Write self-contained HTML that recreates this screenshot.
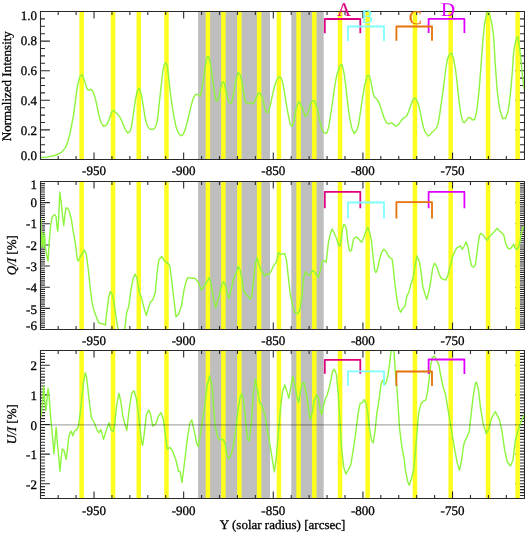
<!DOCTYPE html>
<html><head><meta charset="utf-8"><title>Stokes profiles</title>
<style>
html,body{margin:0;padding:0;background:#fff;overflow:hidden;width:525px;height:534px;}
svg{display:block;will-change:transform;}
text{font-family:"Liberation Serif",serif;fill:#000;text-rendering:geometricPrecision;stroke:#000;stroke-width:0.3px;}
.tl{font-size:13px;}
</style></head><body>
<svg width="525" height="534" viewBox="0 0 525 534">
<rect x="0" y="0" width="525" height="534" fill="#fff"/>
<clipPath id="c0"><rect x="41" y="12.1" width="483" height="146.8"/></clipPath>
<path d="M40.5 152.1 h4.5 M524.5 152.1 h-4.5 M40.5 144.7 h4.5 M524.5 144.7 h-4.5 M40.5 137.3 h4.5 M524.5 137.3 h-4.5 M40.5 129.9 h9.4 M524.5 129.9 h-9.4 M40.5 122.5 h4.5 M524.5 122.5 h-4.5 M40.5 115.1 h4.5 M524.5 115.1 h-4.5 M40.5 107.7 h4.5 M524.5 107.7 h-4.5 M40.5 100.3 h9.4 M524.5 100.3 h-9.4 M40.5 92.9 h4.5 M524.5 92.9 h-4.5 M40.5 85.5 h4.5 M524.5 85.5 h-4.5 M40.5 78.1 h4.5 M524.5 78.1 h-4.5 M40.5 70.7 h9.4 M524.5 70.7 h-9.4 M40.5 63.3 h4.5 M524.5 63.3 h-4.5 M40.5 55.9 h4.5 M524.5 55.9 h-4.5 M40.5 48.5 h4.5 M524.5 48.5 h-4.5 M40.5 41.1 h9.4 M524.5 41.1 h-9.4 M40.5 33.7 h4.5 M524.5 33.7 h-4.5 M40.5 26.3 h4.5 M524.5 26.3 h-4.5 M40.5 18.9 h4.5 M524.5 18.9 h-4.5" fill="none" stroke="#2a2a2a" stroke-width="1.1"/>
<rect x="198.05" y="11.5" width="71.95" height="148" fill="#BEBEBE"/>
<rect x="291.3" y="11.5" width="32.4" height="148" fill="#BEBEBE"/>
<rect x="79.4" y="11.5" width="4.5" height="148" fill="#FFFF1E"/>
<rect x="110.78" y="11.5" width="4.5" height="148" fill="#FFFF1E"/>
<rect x="136.52" y="11.5" width="4.5" height="148" fill="#FFFF1E"/>
<rect x="164.25" y="11.5" width="4.5" height="148" fill="#FFFF1E"/>
<rect x="205.65" y="11.5" width="4.5" height="148" fill="#FFFF1E"/>
<rect x="221.15" y="11.5" width="4.5" height="148" fill="#FFFF1E"/>
<rect x="237.09" y="11.5" width="4.5" height="148" fill="#FFFF1E"/>
<rect x="256.85" y="11.5" width="4.5" height="148" fill="#FFFF1E"/>
<rect x="276.69" y="11.5" width="4.5" height="148" fill="#FFFF1E"/>
<rect x="296.32" y="11.5" width="4.5" height="148" fill="#FFFF1E"/>
<rect x="312.02" y="11.5" width="4.5" height="148" fill="#FFFF1E"/>
<rect x="337.82" y="11.5" width="4.5" height="148" fill="#FFFF1E"/>
<rect x="365.4" y="11.5" width="4.5" height="148" fill="#FFFF1E"/>
<rect x="412.7" y="11.5" width="4.5" height="148" fill="#FFFF1E"/>
<rect x="448.41" y="11.5" width="4.5" height="148" fill="#FFFF1E"/>
<rect x="485.81" y="11.5" width="4.5" height="148" fill="#FFFF1E"/>
<rect x="515.41" y="11.5" width="4.5" height="148" fill="#FFFF1E"/>
<path d="M40.5 11.5 H524.5 V159.5 H40.5 Z M58.18 159.5 v-3.5 M58.18 11.5 v3.5 M76.1 159.5 v-3.5 M76.1 11.5 v3.5 M94.03 159.5 v-7 M94.03 11.5 v7 M111.95 159.5 v-3.5 M111.95 11.5 v3.5 M129.88 159.5 v-3.5 M129.88 11.5 v3.5 M147.81 159.5 v-3.5 M147.81 11.5 v3.5 M165.73 159.5 v-3.5 M165.73 11.5 v3.5 M183.66 159.5 v-7 M183.66 11.5 v7 M201.58 159.5 v-3.5 M201.58 11.5 v3.5 M219.51 159.5 v-3.5 M219.51 11.5 v3.5 M237.44 159.5 v-3.5 M237.44 11.5 v3.5 M255.36 159.5 v-3.5 M255.36 11.5 v3.5 M273.29 159.5 v-7 M273.29 11.5 v7 M291.21 159.5 v-3.5 M291.21 11.5 v3.5 M309.14 159.5 v-3.5 M309.14 11.5 v3.5 M327.06 159.5 v-3.5 M327.06 11.5 v3.5 M344.99 159.5 v-3.5 M344.99 11.5 v3.5 M362.92 159.5 v-7 M362.92 11.5 v7 M380.84 159.5 v-3.5 M380.84 11.5 v3.5 M398.77 159.5 v-3.5 M398.77 11.5 v3.5 M416.69 159.5 v-3.5 M416.69 11.5 v3.5 M434.62 159.5 v-3.5 M434.62 11.5 v3.5 M452.55 159.5 v-7 M452.55 11.5 v7 M470.47 159.5 v-3.5 M470.47 11.5 v3.5 M488.4 159.5 v-3.5 M488.4 11.5 v3.5 M506.32 159.5 v-3.5 M506.32 11.5 v3.5" fill="none" stroke="#2a2a2a" stroke-width="1.1"/>
<path d="M40.5 157.6 C43.47 157.27 43.3 157.87 49.4 156.6 C55.5 155.33 54.1 156 58.8 153.8 C63.5 151.6 61 152.8 63.5 150 C66 147.2 64.43 149.77 66.3 145.4 C68.17 141.03 67.23 144.1 69.1 136.9 C70.97 129.7 70.03 133.8 71.9 123.8 C73.77 113.8 73.13 117.53 74.7 106.9 C76.27 96.27 75.33 100.33 76.6 91.9 C77.87 83.47 76.93 87.23 78.5 81.6 C80.07 75.97 79.43 75.63 81.3 75 C83.17 74.37 82.23 75.33 84.1 79.7 C85.97 84.07 85.2 84.67 86.9 88.1 C88.6 91.53 87.63 89.37 89.2 90 C90.77 90.63 89.87 88.13 91.6 90 C93.33 91.87 92.53 89.97 94.4 95.6 C96.27 101.23 95.43 99.37 97.2 106.9 C98.97 114.43 97.93 112.27 99.7 118.2 C101.47 124.13 100.63 122.2 102.5 124.7 C104.37 127.2 103.43 126.63 105.3 125.7 C107.17 124.77 106.23 125.67 108.1 121.9 C109.97 118.13 109.2 118.13 110.9 114.4 C112.6 110.67 111.63 111.33 113.2 110.7 C114.77 110.07 113.83 110.97 115.6 112.5 C117.37 114.03 116.6 112.8 118.5 115.3 C120.4 117.8 119.43 116.23 121.3 120 C123.17 123.77 122.23 122.63 124.1 126.6 C125.97 130.57 125.33 130.03 126.9 131.9 C128.47 133.77 127.57 133.03 128.8 132.2 C130.03 131.37 129.37 133.47 130.6 129.4 C131.83 125.33 131.23 127.5 132.5 120 C133.77 112.5 133.13 115.03 134.4 106.9 C135.67 98.77 134.93 101.53 136.3 95.6 C137.67 89.67 136.93 89.7 138.5 89.1 C140.07 88.5 139.37 87.87 141 93.8 C142.63 99.73 141.83 98.17 143.4 106.9 C144.97 115.63 144 113.13 145.7 120 C147.4 126.87 146.63 124.43 148.5 127.5 C150.37 130.57 149.63 128.77 151.3 129.2 C152.97 129.63 152.07 129.77 153.5 128.8 C154.93 127.83 154.27 129.63 155.6 126.3 C156.93 122.97 156.23 126.93 157.5 118.8 C158.77 110.67 158.13 113.17 159.4 101.9 C160.67 90.63 160.07 95.63 161.3 85 C162.53 74.37 161.9 77 163.1 70 C164.3 63 163.77 65.9 164.9 64 C166.03 62.1 165.53 62.3 166.5 64.3 C167.47 66.3 166.73 62.47 167.8 70 C168.87 77.53 168.43 76.27 169.7 86.9 C170.97 97.53 170.03 91.27 171.6 101.9 C173.17 112.53 172.53 109.4 174.4 118.8 C176.27 128.2 175.33 124.8 177.2 130.1 C179.07 135.4 178.57 132.97 180 134.7 C181.43 136.43 180.23 135.9 181.5 135.3 C182.77 134.7 182.1 136.53 183.8 132.9 C185.5 129.27 184.73 130.97 186.6 124.4 C188.47 117.83 187.53 120.7 189.4 113.2 C191.27 105.7 190.43 107.67 192.2 101.9 C193.97 96.13 193.13 98.4 194.7 95.9 C196.27 93.4 195.4 94.6 196.9 94.4 C198.4 94.2 197.87 95.6 199.2 95.3 C200.53 95 199.6 98.17 200.9 93.5 C202.2 88.83 201.73 89.77 203.1 81.3 C204.47 72.83 203.83 75.43 205 68.1 C206.17 60.77 205.63 63 206.6 59.3 C207.57 55.6 206.87 56.57 207.9 57 C208.93 57.43 208.47 55.63 209.7 60.6 C210.93 65.57 210.37 63.77 211.6 71.9 C212.83 80.03 212.17 76.57 213.4 85 C214.63 93.43 214.03 92.07 215.3 97.2 C216.57 102.33 215.93 101.03 217.2 100.4 C218.47 99.77 217.83 99.8 219.1 95.3 C220.37 90.8 219.57 91.27 221 86.9 C222.43 82.53 221.87 81.57 223.4 82.2 C224.93 82.83 224.1 83.17 225.6 88.8 C227.1 94.43 226.5 94.4 227.9 99.1 C229.3 103.8 228.37 102.6 229.8 102.9 C231.23 103.2 230.6 105.03 232.2 100 C233.8 94.97 233.03 95.6 234.6 87.8 C236.17 80 235.4 81.4 236.9 76.6 C238.4 71.8 237.53 72.17 239.1 73.4 C240.67 74.63 240.13 74.23 241.6 80.3 C243.07 86.37 242.27 84.7 243.5 91.6 C244.73 98.5 243.87 97.23 245.3 101 C246.73 104.77 245.9 102.27 247.8 102.9 C249.7 103.53 249.13 102.73 251 102.9 C252.87 103.07 251.83 104.67 253.4 103.4 C254.97 102.13 254.33 101.8 255.7 99.1 C257.07 96.4 256.27 97.37 257.5 95.3 C258.73 93.23 258 92.57 259.4 92.9 C260.8 93.23 260.33 93.3 261.7 96.3 C263.07 99.3 262.43 97.83 263.5 101.9 C264.57 105.97 263.7 105.07 264.9 108.5 C266.1 111.93 265.6 112.2 267.1 112.2 C268.6 112.2 267.7 113.8 269.4 108.5 C271.1 103.2 270.33 104.13 272.2 96.3 C274.07 88.47 273.13 90.93 275 85 C276.87 79.07 276.23 81 277.8 78.5 C279.37 76 278.43 77.2 279.7 77.5 C280.97 77.8 280.33 76.27 281.6 79.4 C282.87 82.53 281.93 78.77 283.5 86.9 C285.07 95.03 284.43 93.17 286.3 103.8 C288.17 114.43 287.53 111.6 289.1 118.8 C290.67 126 289.57 124.13 291 125.4 C292.43 126.67 291.87 127.3 293.4 122.6 C294.93 117.9 294.23 117.27 295.6 111.3 C296.97 105.33 296.23 107.7 297.5 104.7 C298.77 101.7 298 101.67 299.4 102.3 C300.8 102.93 300.13 102.97 301.7 106.6 C303.27 110.23 302.67 110.07 304.1 113.2 C305.53 116.33 304.57 116.63 306 116 C307.43 115.37 306.83 115.37 308.4 111.3 C309.97 107.23 309 107.43 310.7 103.8 C312.4 100.17 311.77 100.1 313.5 100.4 C315.23 100.7 314.47 101.07 315.9 104.7 C317.33 108.33 316.53 105.97 317.8 111.3 C319.07 116.63 318.13 114.43 319.7 120.7 C321.27 126.97 320.63 126.03 322.5 130.1 C324.37 134.17 323.53 132.9 325.3 132.9 C327.07 132.9 326.23 134.8 327.8 130.1 C329.37 125.4 328.33 128.83 330 118.8 C331.67 108.77 330.93 112.5 332.8 100 C334.67 87.5 333.7 91.3 335.6 81.3 C337.5 71.3 336.73 75.33 338.5 70 C340.27 64.67 339.37 65.6 340.9 65.3 C342.43 65 341.6 63.13 343.1 69.1 C344.6 75.07 343.83 71.63 345.4 83.2 C346.97 94.77 346.07 90.67 347.8 103.8 C349.53 116.93 348.7 113.23 350.6 122.6 C352.5 131.97 351.93 128.8 353.5 131.9 C355.07 135 353.87 133.47 355.3 131.9 C356.73 130.33 356.23 132.83 357.8 127.2 C359.37 121.57 358.33 125.3 360 115 C361.67 104.7 360.9 107.53 362.8 96.3 C364.7 85.07 363.93 88.2 365.7 81.3 C367.47 74.4 366.57 76.23 368.1 75.6 C369.63 74.97 369.03 75.63 370.3 79.4 C371.57 83.17 370.73 81.6 371.9 86.9 C373.07 92.2 372.23 91.23 373.8 95.3 C375.37 99.37 374.73 96.27 376.6 99.1 C378.47 101.93 377.53 99.43 379.4 103.8 C381.27 108.17 380.33 106.9 382.2 112.2 C384.07 117.5 383.13 115.93 385 119.7 C386.87 123.47 385.8 122.43 387.8 123.5 C389.8 124.57 389.1 122.6 391 122.9 C392.9 123.2 391.73 123.4 393.5 124.4 C395.27 125.4 394.43 126.2 396.3 125.9 C398.17 125.6 397.23 125.57 399.1 123.5 C400.97 121.43 399.83 121.9 401.9 119.7 C403.97 117.5 403.43 118.77 405.3 116.9 C407.17 115.03 405.83 117.53 407.5 114.1 C409.17 110.67 408.53 111.17 410.3 106.6 C412.07 102.03 411.33 103.2 412.8 100.4 C414.27 97.6 413.33 98 414.7 98.2 C416.07 98.4 415.4 97.9 416.9 101 C418.4 104.1 417.63 101.57 419.2 107.5 C420.77 113.43 419.87 111.27 421.6 118.8 C423.33 126.33 422.53 124.83 424.4 130.1 C426.27 135.37 425.63 132.8 427.2 134.6 C428.77 136.4 427.63 136.13 429.1 135.5 C430.57 134.87 429.73 134.57 431.6 132.7 C433.47 130.83 432.83 132.1 434.7 129.9 C436.57 127.7 435.77 129.83 437.2 126.1 C438.63 122.37 437.77 125.57 439 118.7 C440.23 111.83 439.63 114.27 440.9 105.5 C442.17 96.73 441.53 101.73 442.8 92.4 C444.07 83.07 443.47 86.87 444.7 77.5 C445.93 68.13 445.27 71.17 446.5 64.3 C447.73 57.43 446.97 60.5 448.4 56.9 C449.83 53.3 449.37 53.83 450.8 53.5 C452.23 53.17 451.43 52.3 452.7 55.9 C453.97 59.5 453.33 57.1 454.6 64.3 C455.87 71.5 455.27 67.5 456.5 77.5 C457.73 87.5 457.07 83.7 458.3 94.3 C459.53 104.9 458.93 101.17 460.2 109.3 C461.47 117.43 460.83 114.33 462.1 118.7 C463.37 123.07 462.63 121.8 464 122.4 C465.37 123 464.73 122.07 466.2 120.5 C467.67 118.93 466.83 118.43 468.4 117.7 C469.97 116.97 469.33 117.63 470.9 118.3 C472.47 118.97 471.47 120.8 473.1 119.7 C474.73 118.6 474.03 122.7 475.8 115 C477.57 107.3 476.83 110.93 478.4 96.6 C479.97 82.27 479.27 87.3 480.5 72 C481.73 56.7 481.07 63.5 482.1 50.7 C483.13 37.9 482.47 44.07 483.6 33.6 C484.73 23.13 483.93 26.4 485.5 19.3 C487.07 12.2 486.57 12.3 488.3 12.3 C490.03 12.3 489.27 13.8 490.7 19.3 C492.13 24.8 491.5 20.9 492.6 28.8 C493.7 36.7 492.97 29.13 494 43 C495.03 56.87 494.27 51.67 495.7 70.4 C497.13 89.13 496.37 84.33 498.3 99.2 C500.23 114.07 499.57 108.7 501.5 115 C503.43 121.3 502.37 118.1 504.1 118.1 C505.83 118.1 504.93 120.4 506.7 115 C508.47 109.6 507.63 115.03 509.4 101.9 C511.17 88.77 510.6 91.7 512 75.6 C513.4 59.5 512.6 63.8 513.6 53.6 C514.6 43.4 513.73 50.57 515 45 C516.27 39.43 516.13 37.53 517.4 36.9 C518.67 36.27 517.87 37.87 518.8 43.1 C519.73 48.33 518.97 41.47 520.2 52.6 C521.43 63.73 521.07 63.87 522.5 76.5 C523.93 89.13 523.83 85.83 524.5 90.5" fill="none" stroke="#8CF53C" stroke-width="1.4" stroke-linejoin="round" clip-path="url(#c0)"/>
<path d="M324.8 33.3 L324.8 19 L360.3 19 L360.3 33.3" fill="none" stroke="#DD0080" stroke-width="1.8" stroke-linejoin="round"/>
<path d="M428.6 33.1 L428.6 18.9 L464.4 18.9 L464.4 33.1" fill="none" stroke="#DD00FF" stroke-width="1.8" stroke-linejoin="round"/>
<path d="M347.9 41 L347.9 26.5 L384 26.5 L384 41" fill="none" stroke="#80FFFF" stroke-width="1.8" stroke-linejoin="round"/>
<path d="M396.4 40.7 L396.4 26.5 L432 26.5 L432 40.7" fill="none" stroke="#E5720A" stroke-width="1.8" stroke-linejoin="round"/>
<text class="tl" x="36.9" y="15.3" text-anchor="end" dominant-baseline="central">1.0</text>
<text class="tl" x="36.9" y="40.9" text-anchor="end" dominant-baseline="central">0.8</text>
<text class="tl" x="36.9" y="70.8" text-anchor="end" dominant-baseline="central">0.6</text>
<text class="tl" x="36.9" y="100" text-anchor="end" dominant-baseline="central">0.4</text>
<text class="tl" x="36.9" y="130" text-anchor="end" dominant-baseline="central">0.2</text>
<text class="tl" x="36.9" y="155.8" text-anchor="end" dominant-baseline="central">0.0</text>
<text class="tl" x="93.98" y="175.4" text-anchor="middle">-950</text>
<text class="tl" x="183.61" y="175.4" text-anchor="middle">-900</text>
<text class="tl" x="273.24" y="175.4" text-anchor="middle">-850</text>
<text class="tl" x="362.87" y="175.4" text-anchor="middle">-800</text>
<text class="tl" x="452.5" y="175.4" text-anchor="middle">-750</text>
<clipPath id="c1"><rect x="41" y="182.1" width="483" height="146.8"/></clipPath>
<path d="M40.5 327.39 h4.5 M524.5 327.39 h-4.5 M40.5 325.27 h4.5 M524.5 325.27 h-4.5 M40.5 323.16 h4.5 M524.5 323.16 h-4.5 M40.5 321.04 h4.5 M524.5 321.04 h-4.5 M40.5 318.93 h4.5 M524.5 318.93 h-4.5 M40.5 316.81 h4.5 M524.5 316.81 h-4.5 M40.5 314.7 h4.5 M524.5 314.7 h-4.5 M40.5 312.59 h4.5 M524.5 312.59 h-4.5 M40.5 310.47 h4.5 M524.5 310.47 h-4.5 M40.5 308.36 h9.4 M524.5 308.36 h-9.4 M40.5 306.24 h4.5 M524.5 306.24 h-4.5 M40.5 304.13 h4.5 M524.5 304.13 h-4.5 M40.5 302.01 h4.5 M524.5 302.01 h-4.5 M40.5 299.9 h4.5 M524.5 299.9 h-4.5 M40.5 297.79 h4.5 M524.5 297.79 h-4.5 M40.5 295.67 h4.5 M524.5 295.67 h-4.5 M40.5 293.56 h4.5 M524.5 293.56 h-4.5 M40.5 291.44 h4.5 M524.5 291.44 h-4.5 M40.5 289.33 h4.5 M524.5 289.33 h-4.5 M40.5 287.21 h9.4 M524.5 287.21 h-9.4 M40.5 285.1 h4.5 M524.5 285.1 h-4.5 M40.5 282.99 h4.5 M524.5 282.99 h-4.5 M40.5 280.87 h4.5 M524.5 280.87 h-4.5 M40.5 278.76 h4.5 M524.5 278.76 h-4.5 M40.5 276.64 h4.5 M524.5 276.64 h-4.5 M40.5 274.53 h4.5 M524.5 274.53 h-4.5 M40.5 272.41 h4.5 M524.5 272.41 h-4.5 M40.5 270.3 h4.5 M524.5 270.3 h-4.5 M40.5 268.19 h4.5 M524.5 268.19 h-4.5 M40.5 266.07 h9.4 M524.5 266.07 h-9.4 M40.5 263.96 h4.5 M524.5 263.96 h-4.5 M40.5 261.84 h4.5 M524.5 261.84 h-4.5 M40.5 259.73 h4.5 M524.5 259.73 h-4.5 M40.5 257.61 h4.5 M524.5 257.61 h-4.5 M40.5 255.5 h4.5 M524.5 255.5 h-4.5 M40.5 253.39 h4.5 M524.5 253.39 h-4.5 M40.5 251.27 h4.5 M524.5 251.27 h-4.5 M40.5 249.16 h4.5 M524.5 249.16 h-4.5 M40.5 247.04 h4.5 M524.5 247.04 h-4.5 M40.5 244.93 h9.4 M524.5 244.93 h-9.4 M40.5 242.81 h4.5 M524.5 242.81 h-4.5 M40.5 240.7 h4.5 M524.5 240.7 h-4.5 M40.5 238.59 h4.5 M524.5 238.59 h-4.5 M40.5 236.47 h4.5 M524.5 236.47 h-4.5 M40.5 234.36 h4.5 M524.5 234.36 h-4.5 M40.5 232.24 h4.5 M524.5 232.24 h-4.5 M40.5 230.13 h4.5 M524.5 230.13 h-4.5 M40.5 228.01 h4.5 M524.5 228.01 h-4.5 M40.5 225.9 h4.5 M524.5 225.9 h-4.5 M40.5 223.79 h9.4 M524.5 223.79 h-9.4 M40.5 221.67 h4.5 M524.5 221.67 h-4.5 M40.5 219.56 h4.5 M524.5 219.56 h-4.5 M40.5 217.44 h4.5 M524.5 217.44 h-4.5 M40.5 215.33 h4.5 M524.5 215.33 h-4.5 M40.5 213.21 h4.5 M524.5 213.21 h-4.5 M40.5 211.1 h4.5 M524.5 211.1 h-4.5 M40.5 208.99 h4.5 M524.5 208.99 h-4.5 M40.5 206.87 h4.5 M524.5 206.87 h-4.5 M40.5 204.76 h4.5 M524.5 204.76 h-4.5 M40.5 202.64 h9.4 M524.5 202.64 h-9.4 M40.5 200.53 h4.5 M524.5 200.53 h-4.5 M40.5 198.41 h4.5 M524.5 198.41 h-4.5 M40.5 196.3 h4.5 M524.5 196.3 h-4.5 M40.5 194.19 h4.5 M524.5 194.19 h-4.5 M40.5 192.07 h4.5 M524.5 192.07 h-4.5 M40.5 189.96 h4.5 M524.5 189.96 h-4.5 M40.5 187.84 h4.5 M524.5 187.84 h-4.5 M40.5 185.73 h4.5 M524.5 185.73 h-4.5 M40.5 183.61 h4.5 M524.5 183.61 h-4.5" fill="none" stroke="#2a2a2a" stroke-width="1.1"/>
<rect x="198.05" y="181.5" width="71.95" height="148" fill="#BEBEBE"/>
<rect x="291.3" y="181.5" width="32.4" height="148" fill="#BEBEBE"/>
<rect x="79.4" y="181.5" width="4.5" height="148" fill="#FFFF1E"/>
<rect x="110.78" y="181.5" width="4.5" height="148" fill="#FFFF1E"/>
<rect x="136.52" y="181.5" width="4.5" height="148" fill="#FFFF1E"/>
<rect x="164.25" y="181.5" width="4.5" height="148" fill="#FFFF1E"/>
<rect x="205.65" y="181.5" width="4.5" height="148" fill="#FFFF1E"/>
<rect x="221.15" y="181.5" width="4.5" height="148" fill="#FFFF1E"/>
<rect x="237.09" y="181.5" width="4.5" height="148" fill="#FFFF1E"/>
<rect x="256.85" y="181.5" width="4.5" height="148" fill="#FFFF1E"/>
<rect x="276.69" y="181.5" width="4.5" height="148" fill="#FFFF1E"/>
<rect x="296.32" y="181.5" width="4.5" height="148" fill="#FFFF1E"/>
<rect x="312.02" y="181.5" width="4.5" height="148" fill="#FFFF1E"/>
<rect x="337.82" y="181.5" width="4.5" height="148" fill="#FFFF1E"/>
<rect x="365.4" y="181.5" width="4.5" height="148" fill="#FFFF1E"/>
<rect x="412.7" y="181.5" width="4.5" height="148" fill="#FFFF1E"/>
<rect x="448.41" y="181.5" width="4.5" height="148" fill="#FFFF1E"/>
<rect x="485.81" y="181.5" width="4.5" height="148" fill="#FFFF1E"/>
<rect x="515.41" y="181.5" width="4.5" height="148" fill="#FFFF1E"/>
<path d="M40.5 181.5 H524.5 V329.5 H40.5 Z M58.18 329.5 v-3.5 M58.18 181.5 v3.5 M76.1 329.5 v-3.5 M76.1 181.5 v3.5 M94.03 329.5 v-7 M94.03 181.5 v7 M111.95 329.5 v-3.5 M111.95 181.5 v3.5 M129.88 329.5 v-3.5 M129.88 181.5 v3.5 M147.81 329.5 v-3.5 M147.81 181.5 v3.5 M165.73 329.5 v-3.5 M165.73 181.5 v3.5 M183.66 329.5 v-7 M183.66 181.5 v7 M201.58 329.5 v-3.5 M201.58 181.5 v3.5 M219.51 329.5 v-3.5 M219.51 181.5 v3.5 M237.44 329.5 v-3.5 M237.44 181.5 v3.5 M255.36 329.5 v-3.5 M255.36 181.5 v3.5 M273.29 329.5 v-7 M273.29 181.5 v7 M291.21 329.5 v-3.5 M291.21 181.5 v3.5 M309.14 329.5 v-3.5 M309.14 181.5 v3.5 M327.06 329.5 v-3.5 M327.06 181.5 v3.5 M344.99 329.5 v-3.5 M344.99 181.5 v3.5 M362.92 329.5 v-7 M362.92 181.5 v7 M380.84 329.5 v-3.5 M380.84 181.5 v3.5 M398.77 329.5 v-3.5 M398.77 181.5 v3.5 M416.69 329.5 v-3.5 M416.69 181.5 v3.5 M434.62 329.5 v-3.5 M434.62 181.5 v3.5 M452.55 329.5 v-7 M452.55 181.5 v7 M470.47 329.5 v-3.5 M470.47 181.5 v3.5 M488.4 329.5 v-3.5 M488.4 181.5 v3.5 M506.32 329.5 v-3.5 M506.32 181.5 v3.5" fill="none" stroke="#2a2a2a" stroke-width="1.1"/>
<path d="M41 218.5 L41.3 247 L42.3 233 L43.4 247.5 L44.4 233 L45.4 247 L46.6 255 L48.1 261 L49.2 242 L50.4 227.5 L52 217.4 L54.3 214.6 L56 216.2 L57.1 227.5 L57.8 231.2 L58.7 218.5 L59.8 192.2 L61 200.5 L62.5 215.5 L63.7 225.6 L64.7 217 L65.8 208 L67.7 208.3 L69.7 212.5 L71.5 220 L73 230.4 L74.5 238 L76 248 L77.3 260 L78.5 261 L80 257 L82 254.5 L84.3 250 L86.3 254 L88.4 270.4 L90.1 287.2 L91.8 300.7 L93.5 309.1 L96 315.9 L98.5 322.6 L101.1 323.5 L103.6 324 L105.3 325.2 L107 310.8 L108.7 297.3 L110.4 291.4 L112 294 L113.7 300.7 L115.4 312.5 L117.1 324.3 L118.4 330 L124.6 330 L125.7 321 L126.7 312.5 L128.7 306.5 L130.9 290 L133.4 277.9 L135.1 274.2 L137 277.9 L139 291.2 L141.4 297.3 L143.8 307.1 L146.3 315.6 L148.7 307.1 L150.4 302.2 L152.8 299.8 L155.3 292.5 L157 273 L158.9 259.6 L161.8 256.4 L164.3 260.8 L167.4 262.8 L169.9 266 L170.4 270.6 L172.3 285.2 L174.2 302.2 L176 316.8 L178.4 314.4 L181.5 305.8 L184 290 L186.4 280.3 L188.1 277.4 L191.3 278.3 L194.7 278.3 L197.8 281.5 L201.5 290 L203.9 286.4 L206.4 282.7 L209.5 277.4 L211.2 285.2 L213.7 299.8 L215.6 307.7 L217.5 301.2 L219.4 294.6 L221.6 285.2 L223.5 281.5 L225.4 285.2 L227.2 293.7 L229.1 298.4 L231 289.9 L233.4 279.6 L236.2 273.1 L238.1 266.5 L240 269.3 L241.8 278.7 L243.7 290.9 L246 294.6 L247.5 295.5 L249.7 298.9 L251.6 297.4 L253.4 282.4 L255.3 263.7 L257 257.7 L258.7 263.7 L261.6 271.2 L264.4 275.9 L266.6 274 L269 274.6 L271.5 270.3 L273.7 265.6 L276.5 261.8 L278.4 252.5 L280.3 254.3 L282.2 254 L284.6 253.4 L286.5 260 L288.3 276.8 L290.2 293.7 L292.5 304.9 L294.7 312.4 L297.1 313.9 L299.6 310.5 L301.8 297.4 L303.6 277.9 L305.4 271.8 L307.3 274.2 L309.7 275.4 L312.2 270.6 L314.6 271.8 L316.5 275.4 L318.2 277.4 L320.7 269.3 L322.2 261.7 L323.9 260.6 L326.2 262.2 L327.3 252.7 L328.4 242.6 L330.1 234.7 L332.1 228.9 L334 232.5 L336.9 239.2 L338.5 244.8 L340 246.2 L341.3 238.1 L342.5 229.1 L343.8 224.4 L345.3 225.7 L346.4 229.1 L347.5 239.2 L348.7 247.1 L349.8 251 L351.5 250.4 L352.6 243.7 L353.7 238.7 L356 237 L357.6 237.5 L359.3 239.8 L361.6 242.4 L363.3 238.7 L365.5 232.5 L367.7 227.2 L369.5 231.7 L371.3 240 L373.2 258 L374.7 269.9 L375.8 272.6 L377.3 269.9 L379.2 260.9 L381.5 252.7 L383.7 249.3 L386 251.2 L388.2 255.7 L390.2 258.2 L392 258.7 L393.3 268 L394.8 283 L396.7 298 L398.7 308.4 L400.8 312.2 L402.7 308.4 L405 306.2 L406.8 296.4 L409.2 291.2 L411 283.7 L413.2 277.7 L415.2 265 L417 256 L419.2 261.2 L420.7 269.5 L422.7 286 L424.8 293.4 L426.7 299.4 L428.7 292 L430.7 281.5 L432.7 268 L434.6 263.2 L436.7 266.5 L438.7 272.9 L441 278.2 L443.2 279.2 L445.8 280.1 L447.7 275.9 L450 266.9 L452.2 257.9 L454.5 251.9 L456.7 248.2 L459 246.7 L460.5 246 L462.3 249.3 L464.2 246 L466.2 241.8 L468 247.5 L469.8 257.9 L471.7 266.2 L473.7 267.2 L475.4 264.7 L476.5 256.9 L478 244.9 L479.5 235.2 L481 233.3 L483.2 235.2 L485.5 238.7 L487.3 240.1 L489.2 236.7 L491.5 234.5 L494.5 231.5 L497.2 228.2 L499.3 230.7 L502 233 L503.8 235.2 L505.7 243.4 L507.7 247.9 L509.8 249.1 L511.7 247.2 L513.7 244.2 L514.7 247.6 L516.6 249.4 L518.4 247.6 L519.9 242 L521.4 233 L523.2 227 L524.5 226.2" fill="none" stroke="#8CF53C" stroke-width="1.4" stroke-linejoin="round" clip-path="url(#c1)"/>
<path d="M324.8 208.2 L324.8 191.9 L360.3 191.9 L360.3 208.2" fill="none" stroke="#DD0080" stroke-width="1.8" stroke-linejoin="round"/>
<path d="M428.6 208.3 L428.6 191.8 L464.4 191.8 L464.4 208.3" fill="none" stroke="#DD00FF" stroke-width="1.8" stroke-linejoin="round"/>
<path d="M347.9 218.6 L347.9 202.5 L384 202.5 L384 218.6" fill="none" stroke="#80FFFF" stroke-width="1.8" stroke-linejoin="round"/>
<path d="M396.4 218.6 L396.4 202.2 L432 202.2 L432 218.6" fill="none" stroke="#E5720A" stroke-width="1.8" stroke-linejoin="round"/>
<text class="tl" x="36.9" y="184.1" text-anchor="end" dominant-baseline="central">1</text>
<text class="tl" x="36.9" y="202.2" text-anchor="end" dominant-baseline="central">0</text>
<text class="tl" x="36.9" y="223.8" text-anchor="end" dominant-baseline="central">-1</text>
<text class="tl" x="36.9" y="245.2" text-anchor="end" dominant-baseline="central">-2</text>
<text class="tl" x="36.9" y="266.5" text-anchor="end" dominant-baseline="central">-3</text>
<text class="tl" x="36.9" y="287.8" text-anchor="end" dominant-baseline="central">-4</text>
<text class="tl" x="36.9" y="309" text-anchor="end" dominant-baseline="central">-5</text>
<text class="tl" x="36.9" y="325.6" text-anchor="end" dominant-baseline="central">-6</text>
<text class="tl" x="93.98" y="345.4" text-anchor="middle">-950</text>
<text class="tl" x="183.61" y="345.4" text-anchor="middle">-900</text>
<text class="tl" x="273.24" y="345.4" text-anchor="middle">-850</text>
<text class="tl" x="362.87" y="345.4" text-anchor="middle">-800</text>
<text class="tl" x="452.5" y="345.4" text-anchor="middle">-750</text>
<clipPath id="c2"><rect x="41" y="351.1" width="483" height="146.8"/></clipPath>
<path d="M40.5 495.54 h4.5 M524.5 495.54 h-4.5 M40.5 492.58 h4.5 M524.5 492.58 h-4.5 M40.5 489.62 h4.5 M524.5 489.62 h-4.5 M40.5 486.66 h4.5 M524.5 486.66 h-4.5 M40.5 483.7 h9.4 M524.5 483.7 h-9.4 M40.5 480.74 h4.5 M524.5 480.74 h-4.5 M40.5 477.78 h4.5 M524.5 477.78 h-4.5 M40.5 474.82 h4.5 M524.5 474.82 h-4.5 M40.5 471.86 h4.5 M524.5 471.86 h-4.5 M40.5 468.9 h4.5 M524.5 468.9 h-4.5 M40.5 465.94 h4.5 M524.5 465.94 h-4.5 M40.5 462.98 h4.5 M524.5 462.98 h-4.5 M40.5 460.02 h4.5 M524.5 460.02 h-4.5 M40.5 457.06 h4.5 M524.5 457.06 h-4.5 M40.5 454.1 h9.4 M524.5 454.1 h-9.4 M40.5 451.14 h4.5 M524.5 451.14 h-4.5 M40.5 448.18 h4.5 M524.5 448.18 h-4.5 M40.5 445.22 h4.5 M524.5 445.22 h-4.5 M40.5 442.26 h4.5 M524.5 442.26 h-4.5 M40.5 439.3 h4.5 M524.5 439.3 h-4.5 M40.5 436.34 h4.5 M524.5 436.34 h-4.5 M40.5 433.38 h4.5 M524.5 433.38 h-4.5 M40.5 430.42 h4.5 M524.5 430.42 h-4.5 M40.5 427.46 h4.5 M524.5 427.46 h-4.5 M40.5 424.5 h9.4 M524.5 424.5 h-9.4 M40.5 421.54 h4.5 M524.5 421.54 h-4.5 M40.5 418.58 h4.5 M524.5 418.58 h-4.5 M40.5 415.62 h4.5 M524.5 415.62 h-4.5 M40.5 412.66 h4.5 M524.5 412.66 h-4.5 M40.5 409.7 h4.5 M524.5 409.7 h-4.5 M40.5 406.74 h4.5 M524.5 406.74 h-4.5 M40.5 403.78 h4.5 M524.5 403.78 h-4.5 M40.5 400.82 h4.5 M524.5 400.82 h-4.5 M40.5 397.86 h4.5 M524.5 397.86 h-4.5 M40.5 394.9 h9.4 M524.5 394.9 h-9.4 M40.5 391.94 h4.5 M524.5 391.94 h-4.5 M40.5 388.98 h4.5 M524.5 388.98 h-4.5 M40.5 386.02 h4.5 M524.5 386.02 h-4.5 M40.5 383.06 h4.5 M524.5 383.06 h-4.5 M40.5 380.1 h4.5 M524.5 380.1 h-4.5 M40.5 377.14 h4.5 M524.5 377.14 h-4.5 M40.5 374.18 h4.5 M524.5 374.18 h-4.5 M40.5 371.22 h4.5 M524.5 371.22 h-4.5 M40.5 368.26 h4.5 M524.5 368.26 h-4.5 M40.5 365.3 h9.4 M524.5 365.3 h-9.4 M40.5 362.34 h4.5 M524.5 362.34 h-4.5 M40.5 359.38 h4.5 M524.5 359.38 h-4.5 M40.5 356.42 h4.5 M524.5 356.42 h-4.5 M40.5 353.46 h4.5 M524.5 353.46 h-4.5" fill="none" stroke="#2a2a2a" stroke-width="1.1"/>
<rect x="198.05" y="350.5" width="71.95" height="148" fill="#BEBEBE"/>
<rect x="291.3" y="350.5" width="32.4" height="148" fill="#BEBEBE"/>
<rect x="79.4" y="350.5" width="4.5" height="148" fill="#FFFF1E"/>
<rect x="110.78" y="350.5" width="4.5" height="148" fill="#FFFF1E"/>
<rect x="136.52" y="350.5" width="4.5" height="148" fill="#FFFF1E"/>
<rect x="164.25" y="350.5" width="4.5" height="148" fill="#FFFF1E"/>
<rect x="205.65" y="350.5" width="4.5" height="148" fill="#FFFF1E"/>
<rect x="221.15" y="350.5" width="4.5" height="148" fill="#FFFF1E"/>
<rect x="237.09" y="350.5" width="4.5" height="148" fill="#FFFF1E"/>
<rect x="256.85" y="350.5" width="4.5" height="148" fill="#FFFF1E"/>
<rect x="276.69" y="350.5" width="4.5" height="148" fill="#FFFF1E"/>
<rect x="296.32" y="350.5" width="4.5" height="148" fill="#FFFF1E"/>
<rect x="312.02" y="350.5" width="4.5" height="148" fill="#FFFF1E"/>
<rect x="337.82" y="350.5" width="4.5" height="148" fill="#FFFF1E"/>
<rect x="365.4" y="350.5" width="4.5" height="148" fill="#FFFF1E"/>
<rect x="412.7" y="350.5" width="4.5" height="148" fill="#FFFF1E"/>
<rect x="448.41" y="350.5" width="4.5" height="148" fill="#FFFF1E"/>
<rect x="485.81" y="350.5" width="4.5" height="148" fill="#FFFF1E"/>
<rect x="515.41" y="350.5" width="4.5" height="148" fill="#FFFF1E"/>
<path d="M40.5 350.5 H524.5 V498.5 H40.5 Z M58.18 498.5 v-3.5 M58.18 350.5 v3.5 M76.1 498.5 v-3.5 M76.1 350.5 v3.5 M94.03 498.5 v-7 M94.03 350.5 v7 M111.95 498.5 v-3.5 M111.95 350.5 v3.5 M129.88 498.5 v-3.5 M129.88 350.5 v3.5 M147.81 498.5 v-3.5 M147.81 350.5 v3.5 M165.73 498.5 v-3.5 M165.73 350.5 v3.5 M183.66 498.5 v-7 M183.66 350.5 v7 M201.58 498.5 v-3.5 M201.58 350.5 v3.5 M219.51 498.5 v-3.5 M219.51 350.5 v3.5 M237.44 498.5 v-3.5 M237.44 350.5 v3.5 M255.36 498.5 v-3.5 M255.36 350.5 v3.5 M273.29 498.5 v-7 M273.29 350.5 v7 M291.21 498.5 v-3.5 M291.21 350.5 v3.5 M309.14 498.5 v-3.5 M309.14 350.5 v3.5 M327.06 498.5 v-3.5 M327.06 350.5 v3.5 M344.99 498.5 v-3.5 M344.99 350.5 v3.5 M362.92 498.5 v-7 M362.92 350.5 v7 M380.84 498.5 v-3.5 M380.84 350.5 v3.5 M398.77 498.5 v-3.5 M398.77 350.5 v3.5 M416.69 498.5 v-3.5 M416.69 350.5 v3.5 M434.62 498.5 v-3.5 M434.62 350.5 v3.5 M452.55 498.5 v-7 M452.55 350.5 v7 M470.47 498.5 v-3.5 M470.47 350.5 v3.5 M488.4 498.5 v-3.5 M488.4 350.5 v3.5 M506.32 498.5 v-3.5 M506.32 350.5 v3.5" fill="none" stroke="#2a2a2a" stroke-width="1.1"/>
<path d="M40.5 418.1 L41.4 414.3 L42.7 401.2 L43.6 386.2 L44.6 399.3 L45.9 410.6 L47 399.3 L48.1 388.5 L49.2 397.5 L50.7 418.1 L52 431.2 L53 442.4 L53.9 453.7 L54.9 442.4 L56.2 427.4 L57.3 442.4 L58.6 455.5 L59.9 471.4 L61 459.3 L62.3 449 L63.8 449.9 L65.2 455.5 L66.1 459.3 L67.4 449.9 L68.5 438.7 L69.8 433.1 L71.3 431.2 L72.8 435.9 L74.5 431.2 L76.9 429.6 L78.4 426.2 L79.7 416.8 L81.6 400 L83.4 383.1 L85.3 372.8 L86.6 377.5 L88.1 390.6 L90 407.5 L91.5 417.8 L93.7 421.5 L95.6 426.2 L97.5 430.9 L99 432.7 L100.8 429.6 L102.2 434.6 L103.5 439.3 L105 434.6 L106.8 429 L109.1 422.8 L111 429.9 L113 431.8 L114.7 424.3 L116.6 405.6 L119 393.4 L120.9 401.8 L122.8 415.9 L124.4 422.3 L126.8 430.3 L129.2 408.9 L131.7 393.1 L134.1 390.7 L136.5 399.2 L139 418.7 L141.4 440.6 L142.6 445.4 L144.3 433.3 L146.3 415 L148.7 410.1 L150.4 413.8 L152.8 426 L156 423.5 L158.4 416.2 L160.9 412.6 L163.3 418.7 L165.5 437 L167.4 449.1 L169.9 447.4 L172.3 450.3 L175.9 460 L178.4 471 L180.1 471.7 L182 482.4 L184.5 462.5 L187.4 438.1 L189.8 423.5 L191.8 419.9 L194.2 430.8 L196.6 443 L198.3 446.6 L200.3 435.7 L202.7 418.7 L205 404 L207 386 L209.6 376 L211.8 384.5 L213.5 406.4 L215.2 425.8 L217.7 436.8 L220.1 439.9 L222.5 439.2 L225 442.9 L226.9 455 L228.4 458.7 L230.5 456.2 L233 447.7 L235.4 433.1 L237.8 411.2 L240.3 396.6 L242 393.7 L243.9 403.9 L245.9 423.4 L247.6 439.2 L249.3 440.9 L251.2 423.4 L253.4 393 L255.4 379 L257.3 389.2 L259.7 402.6 L262.2 406.2 L265.1 416 L267.5 430.6 L270 445.2 L272.4 459.8 L274.3 471.9 L276.3 457.3 L278.7 428.1 L281.1 402.6 L282.8 390.4 L284.8 384.8 L287 391.6 L288.9 398.4 L290.9 386.8 L292.8 376.5 L295 385 L296.9 396.5 L298.6 402.6 L300.4 391.6 L302.3 383.1 L303.8 382.4 L305.2 388 L307.2 398.9 L308.9 412.3 L310.3 419.6 L312 413.5 L314 401.4 L316.4 395.3 L318.4 397.7 L320.1 408.7 L321.8 414.7 L323.7 405 L325.4 398.9 L327.1 395.3 L329.1 388 L331 379.5 L332.7 371 L334.4 369.2 L336.4 374.6 L338.3 394.1 L340 423.3 L341.7 450 L343.7 467.1 L345.9 474 L348.4 469.6 L350.8 464.8 L353.2 450.2 L355.7 433.1 L358.1 413.7 L360.1 403.4 L362.3 402.7 L364.2 399.5 L366.1 403.9 L367.8 413.7 L369.5 428.3 L371.5 440.4 L373.2 442.9 L375.1 430.7 L376.8 413.7 L378.8 401.5 L380.3 390.1 L381.2 383.6 L382.6 380.3 L383.9 383.6 L385 384.5 L386.4 381.7 L387.8 376.1 L389.2 366.7 L390.3 357.4 L391.5 347.5 L393.5 347.5 L394.4 357.4 L395 366.7 L395.7 376.1 L396.7 385.5 L397.6 398 L399.5 427.9 L401.9 447.3 L404.3 459.5 L405.5 470.9 L407.7 481.4 L409.2 485.2 L411.5 478.4 L413.7 469.4 L415.2 454 L416.7 436 L418 420 L418.8 412 L421.1 403.5 L423.5 401.1 L425.9 399.9 L427.7 391.4 L429.1 379.2 L430.8 364.6 L432.5 357.3 L434.5 356.1 L436.9 360.9 L438.8 364.6 L440.5 374.3 L443 386.5 L445.4 393.8 L447.8 408.4 L450.3 423 L452.7 437.6 L455.1 452.2 L457.6 464.4 L459.5 470.4 L461.7 459.5 L463.3 447 L464.5 441.9 L466.6 437.9 L469.2 431.4 L471 415.6 L473.1 397.2 L475.2 384.1 L476.5 382 L478.4 389.4 L480.5 407.7 L483.1 423.5 L486.2 433.5 L488.9 428.7 L491.5 418.2 L495.4 411.7 L499.4 419.6 L502 431.4 L504.6 449.7 L507.2 461.5 L510.4 466 L513 460.2 L515.1 441.9 L517.7 431.4 L520.9 422.2 L524.5 414.3" fill="none" stroke="#8CF53C" stroke-width="1.4" stroke-linejoin="round" clip-path="url(#c2)"/>
<line x1="40.5" y1="424.85" x2="524.5" y2="424.85" stroke="#000" stroke-opacity="0.33" stroke-width="1.4"/>
<path d="M324.8 373.8 L324.8 359.9 L360.3 359.9 L360.3 373.8" fill="none" stroke="#DD0080" stroke-width="1.8" stroke-linejoin="round"/>
<path d="M428.6 374 L428.6 359.5 L464.4 359.5 L464.4 374" fill="none" stroke="#DD00FF" stroke-width="1.8" stroke-linejoin="round"/>
<path d="M347.9 385.8 L347.9 371.4 L384 371.4 L384 385.8" fill="none" stroke="#80FFFF" stroke-width="1.8" stroke-linejoin="round"/>
<path d="M396.4 386 L396.4 371.5 L432 371.5 L432 386" fill="none" stroke="#E5720A" stroke-width="1.8" stroke-linejoin="round"/>
<text class="tl" x="36.9" y="365.6" text-anchor="end" dominant-baseline="central">2</text>
<text class="tl" x="36.9" y="395.3" text-anchor="end" dominant-baseline="central">1</text>
<text class="tl" x="36.9" y="425" text-anchor="end" dominant-baseline="central">0</text>
<text class="tl" x="36.9" y="454.8" text-anchor="end" dominant-baseline="central">-1</text>
<text class="tl" x="36.9" y="484.6" text-anchor="end" dominant-baseline="central">-2</text>
<text class="tl" x="93.98" y="514.8" text-anchor="middle">-950</text>
<text class="tl" x="183.61" y="514.8" text-anchor="middle">-900</text>
<text class="tl" x="273.24" y="514.8" text-anchor="middle">-850</text>
<text class="tl" x="362.87" y="514.8" text-anchor="middle">-800</text>
<text class="tl" x="452.5" y="514.8" text-anchor="middle">-750</text>
<text x="344.1" y="15.7" text-anchor="middle" style="font-size:19.5px;fill:#DD0080;stroke:#DD0080;stroke-width:0.15px">A</text>
<text x="367.2" y="23.3" text-anchor="middle" style="font-size:19.5px;fill:#80FFFF;stroke:#80FFFF;stroke-width:0.15px" transform="translate(367.2 0) scale(0.88 1) translate(-367.2 0)">B</text>
<text x="415.2" y="23.6" text-anchor="middle" style="font-size:19.5px;fill:#E5720A;stroke:#E5720A;stroke-width:0.15px">C</text>
<text x="448" y="15.9" text-anchor="middle" style="font-size:19.5px;fill:#DD00FF;stroke:#DD00FF;stroke-width:0.15px">D</text>
<text class="tl" x="282.6" y="528.8" text-anchor="middle">Y (solar radius) [arcsec]</text>
<text class="tl" transform="translate(10.5 86.2) rotate(-90)" text-anchor="middle">Normalized Intensity</text>
<text class="tl" transform="translate(16.2 255.2) rotate(-90)" text-anchor="middle"><tspan font-style="italic">Q/I</tspan> [%]</text>
<text class="tl" transform="translate(16.0 424.2) rotate(-90)" text-anchor="middle"><tspan font-style="italic">U/I</tspan> [%]</text>
</svg>
</body></html>
